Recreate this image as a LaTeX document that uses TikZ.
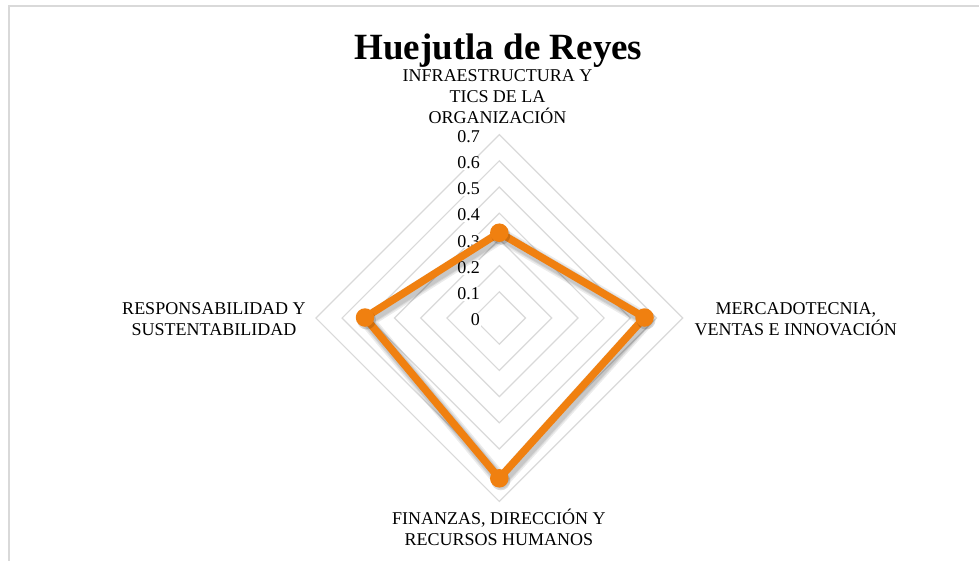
\documentclass[tikz,border=0pt]{standalone}
\usepackage{fontspec}
\setmainfont{Liberation Serif}
\definecolor{ringgray}{RGB}{217,217,217}
\definecolor{frameGray}{RGB}{217,217,217}
\definecolor{serieorange}{RGB}{240,128,16}
\tikzset{
  ring/.style={draw=ringgray, line width=1.2},
  tick/.style={font=\fontsize{18}{20.8}\selectfont, fill=white, inner sep=1pt, anchor=base east},
  axlabel/.style={font=\fontsize{18}{20.8}\selectfont, align=center, inner sep=0pt, anchor=base},
  charttitle/.style={font=\fontsize{37}{44}\selectfont\bfseries, inner sep=0pt, anchor=base},
  serie/.style={draw=serieorange, line width=7.5, line join=round},
  shadowline/.style={draw=black, opacity=0.08, line join=round},
  marker/.style={circle, fill=serieorange, minimum size=18.5, inner sep=0pt},
  markershadow/.style={circle, fill=black, opacity=0.14, minimum size=19, inner sep=0pt},
}
\begin{document}
\begin{tikzpicture}[x=1pt,y=-1pt]
\useasboundingbox (0,0) rectangle (979,560);
\fill[white] (0,0) rectangle (979,560);
\draw[draw=frameGray, line width=2] (9,6) rectangle (1000,600);

\coordinate (O) at (499.3,318);
% rings
\foreach \k in {1,...,7}{
  \pgfmathsetmacro\r{\k*26.2}
  \draw[ring, shift={(O)}] (0,-\r) -- (\r,0) -- (0,\r) -- (-\r,0) -- cycle;
}
% tick labels
\foreach \k/\t in {0/0,1/0.1,2/0.2,3/0.3,4/0.4,5/0.5,6/0.6,7/0.7}{
  \pgfmathsetmacro\yy{318-\k*26.2+7.7}
  \node[tick] (t\k) at (481,\yy) {\t};
}
% data points
\coordinate (p1) at (499.3,232.7);
\coordinate (p2) at (644.5,317.5);
\coordinate (p3) at (499.3,478.3);
\coordinate (p4) at (365,317.5);
% shadow
\foreach \w in {15,12,10}{
  \draw[shadowline, line width=\w] ([shift={(2,3)}]p1) -- ([shift={(2,3)}]p2) -- ([shift={(2,3)}]p3) -- ([shift={(2,3)}]p4) -- cycle;
}
% series line
\draw[serie] (p1) -- (p2) -- (p3) -- (p4) -- cycle;
% markers
\foreach \i in {1,...,4}{
  \node[markershadow] (ms\i) at ([shift={(1.5,2.5)}]p\i) {};
  \node[marker] (m\i) at (p\i) {};
}
% title and axis labels
\node[charttitle] (title) at (498.5,59.5) {Huejutla de Reyes};
\node[axlabel] (ltop) at (497.5,123.3) {INFRAESTRUCTURA Y\\TICS DE LA\\ORGANIZACIÓN};
\node[axlabel] (lright) at (795.8,335) {MERCADOTECNIA,\\VENTAS E INNOVACIÓN};
\node[axlabel] (lbottom) at (498.8,545) {FINANZAS, DIRECCIÓN Y\\RECURSOS HUMANOS};
\node[axlabel] (lleft) at (214,335) {RESPONSABILIDAD Y\\SUSTENTABILIDAD};
\end{tikzpicture}
\end{document}
